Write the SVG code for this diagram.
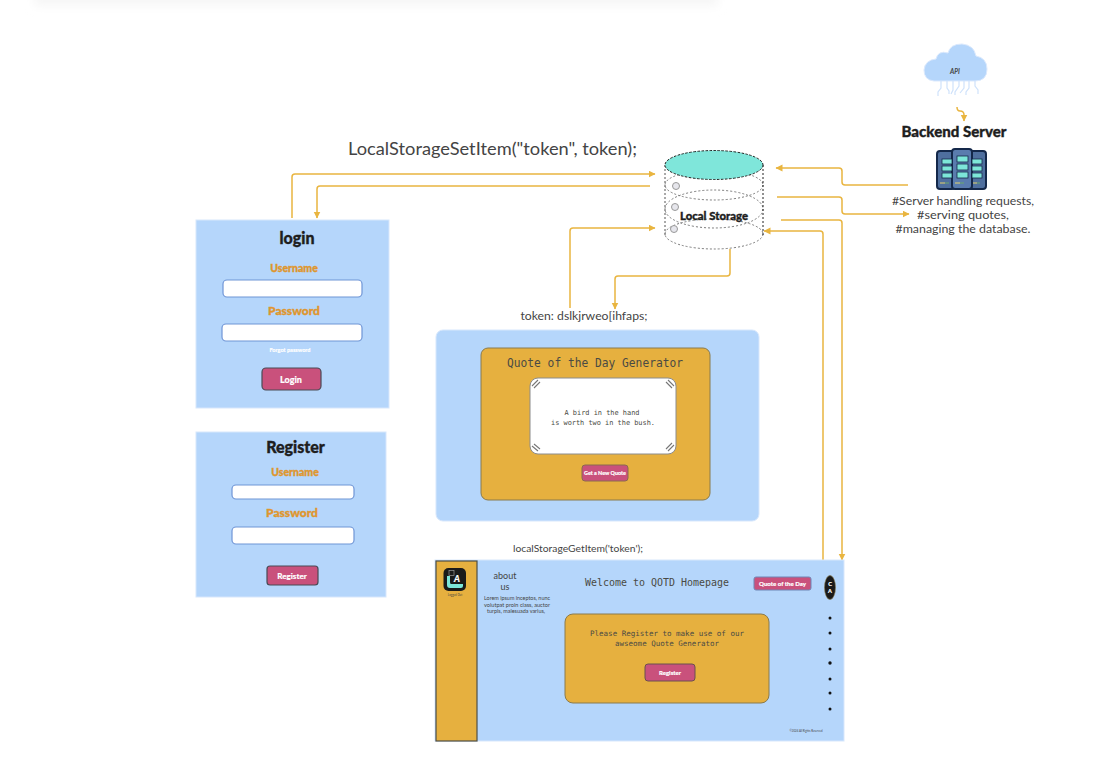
<svg xmlns="http://www.w3.org/2000/svg" width="1113" height="772" viewBox="0 0 1113 772">
<style>
.hand{font-family:"Lato","Open Sans","Liberation Sans",sans-serif;fill:#444;text-anchor:middle}
.mono{font-family:"DejaVu Sans Mono","Liberation Mono",monospace;fill:#4a4a44;text-anchor:middle}
.head{font-family:"Lato","Noto Sans","Liberation Sans",sans-serif;font-weight:900;fill:#1e1e1e;stroke:#1e1e1e;stroke-width:.35;text-anchor:middle}
.lab{font-family:"Lato","Noto Sans","Liberation Sans",sans-serif;font-weight:900;fill:#df962f;stroke:#df962f;stroke-width:.35;text-anchor:middle;font-size:10.5px}
.btnt{font-family:"Lato","Noto Sans","Liberation Sans",sans-serif;font-weight:900;fill:#fff;stroke:#fff;stroke-width:.15;text-anchor:middle}
.panel{fill:#b5d6fb;stroke:#d7e7fc;stroke-width:1}
.input{fill:#fff;stroke:#6f95d6;stroke-width:1.2}
.btn{fill:#c9517c;stroke:#4a4a55;stroke-width:1.2}
.gold{fill:#e6b03f;stroke:#8a7a4c;stroke-width:1}
.conn{fill:none;stroke:#e9b540;stroke-width:1.5}
.dash{fill:none;stroke:#7a7a7a;stroke-width:1;stroke-dasharray:2 2}
.tick{stroke:#777;stroke-width:1.1;fill:none}
.wire{stroke:#cfe2fb;stroke-width:1.2;fill:none}
</style>
<defs>
<filter id="soft" x="-5%" y="-200%" width="110%" height="500%"><feGaussianBlur stdDeviation="5"/></filter>
<marker id="arrow" markerUnits="userSpaceOnUse" markerWidth="8" markerHeight="8" refX="6.5" refY="3.5" orient="auto"><path d="M0 0L7 3.5L0 7Z" fill="#e9b540"/></marker>
</defs>
<rect x="34" y="-24" width="684" height="30" fill="#f6f6f6" filter="url(#soft)"/>

<g id="connectors">
<path class="conn" marker-end="url(#arrow)" d="M292 218V177Q292 174 295 174H655"/>
<path class="conn" marker-end="url(#arrow)" d="M650 186H320Q317 186 317 189V218"/>
<path class="conn" marker-end="url(#arrow)" d="M570 308V231Q570 228 573 228H655"/>
<path class="conn" marker-end="url(#arrow)" d="M730 249V273Q730 276 727 276H618Q615 276 615 279V309"/>
<path class="conn" marker-end="url(#arrow)" d="M908 185H845Q842 185 842 182V171Q842 168 839 168H776"/>
<path class="conn" marker-end="url(#arrow)" d="M777 197H839Q842 197 842 200V211Q842 214 845 214H909"/>
<path class="conn" marker-end="url(#arrow)" d="M781 220H839Q842 220 842 223V560"/>
<path class="conn" marker-end="url(#arrow)" d="M823 560V234Q823 231 820 231H764"/>
<path class="conn" marker-end="url(#arrow)" d="M957 107Q957 111 960 111Q964 111 964 115V121"/>
</g>

<g id="api-cloud">
<path d="M934 81Q924 80 924 70Q925 60 936 59Q938 50 948 53Q950 44 962 44Q974 45 976 56Q987 58 987 69Q987 81 975 81Z" fill="#b5d6fb" stroke="#dbe9fd"/>
<path class="wire" d="M941 81V88L938 92V96M947 81V88L949 91V94M953 81V90L951 94M959 81V86L955 92V95M964 81V88L960 93M969 81V88L966 92V95M975 81V86L978 90V94"/>
<text class="hand" x="955" y="74" font-size="6.500" font-style="italic" font-weight="700">API</text>
</g>

<g id="backend-server">
<text class="head" x="954" y="137" font-size="15" textLength="105" lengthAdjust="spacingAndGlyphs">Backend Server</text>
<rect x="937" y="151" width="18" height="38" rx="3" fill="#4f6f9e" stroke="#14284a" stroke-width="2"/>
<rect x="968" y="151" width="18" height="38" rx="3" fill="#4f6f9e" stroke="#14284a" stroke-width="2"/>
<rect x="952" y="149" width="20" height="40" rx="3" fill="#5a7cae" stroke="#14284a" stroke-width="2"/>
<g fill="#7de6d9" stroke="#14284a" stroke-width=".8">
<rect x="942" y="159" width="10" height="5"/><rect x="942" y="166" width="10" height="5"/><rect x="942" y="173" width="10" height="5"/>
<rect x="957" y="156" width="11" height="6"/><rect x="957" y="164" width="11" height="6"/><rect x="957" y="172" width="11" height="6"/>
<rect x="972" y="159" width="10" height="5"/><rect x="972" y="166" width="10" height="5"/><rect x="972" y="173" width="10" height="5"/>
</g>
<path d="M940 183h5M955 183h5M973 183h4" stroke="#e6d36a" stroke-width="1"/>
<path d="M945 183h4M960 183h4M977 183h3" stroke="#6aa86a" stroke-width="1"/>
<text class="hand" x="963" y="205" font-size="11.500" textLength="142" lengthAdjust="spacingAndGlyphs">#Server handling requests,</text>
<text class="hand" x="963" y="219" font-size="11.500" textLength="92" lengthAdjust="spacingAndGlyphs">#serving quotes,</text>
<text class="hand" x="963" y="233" font-size="11.500" textLength="135" lengthAdjust="spacingAndGlyphs">#managing the database.</text>
</g>

<g id="local-storage">
<ellipse class="dash" cx="714" cy="185" rx="49" ry="15"/>
<ellipse class="dash" cx="714" cy="209" rx="49" ry="19"/>
<ellipse class="dash" cx="714" cy="234" rx="49" ry="15"/>
<path d="M665 165V236" fill="none" stroke="#555" stroke-dasharray="2 2"/>
<path d="M763 165V236" fill="none" stroke="#222" stroke-dasharray="2 2"/>
<ellipse cx="714" cy="165" rx="49" ry="14.500" fill="#7fe6da" stroke="#222" stroke-width="1" stroke-dasharray="2.500 1.500"/>
<g fill="#e6e6ec" stroke="#999"><circle cx="676" cy="186" r="3.500"/><circle cx="675" cy="207" r="3.500"/><circle cx="674" cy="229" r="3.500"/></g>
<text class="head" x="714" y="220" font-size="11.500" textLength="68" lengthAdjust="spacingAndGlyphs">Local Storage</text>
</g>

<text class="hand" x="492.500" y="155" font-size="17" textLength="289" lengthAdjust="spacingAndGlyphs">LocalStorageSetItem("token", token);</text>
<text class="hand" x="584" y="320" font-size="11.500" textLength="127" lengthAdjust="spacingAndGlyphs">token: dslkjrweo[ihfaps;</text>
<text class="hand" x="578" y="552" font-size="10" textLength="130" lengthAdjust="spacingAndGlyphs">localStorageGetItem('token');</text>

<g id="login">
<rect class="panel" x="196" y="220" width="193" height="188"/>
<text class="head" x="297" y="244" font-size="16">login</text>
<text class="lab" x="294" y="272">Username</text>
<rect class="input" x="223" y="280" width="139" height="17" rx="4"/>
<text class="lab" x="294" y="315" style="font-size:12px">Password</text>
<rect class="input" x="222" y="324" width="140" height="17" rx="4"/>
<text class="btnt" x="290" y="352" font-size="5.500">Forgot password</text>
<rect class="btn" x="262" y="368" width="59" height="22" rx="4"/>
<text class="btnt" x="291" y="383" font-size="9">Login</text>
</g>

<g id="register">
<rect class="panel" x="196" y="432" width="190" height="165"/>
<text class="head" x="295.500" y="453" font-size="16">Register</text>
<text class="lab" x="295" y="476">Username</text>
<rect class="input" x="232" y="485" width="122" height="14" rx="4"/>
<text class="lab" x="292" y="517" style="font-size:12px">Password</text>
<rect class="input" x="232" y="527" width="122" height="17" rx="4"/>
<rect class="btn" x="267" y="566" width="51" height="19" rx="3"/>
<text class="btnt" x="292" y="579" font-size="8">Register</text>
</g>

<g id="quote-generator">
<rect class="panel" x="436" y="330" width="323" height="191" rx="7"/>
<rect class="gold" x="481" y="348" width="229" height="152" rx="7"/>
<text class="mono" x="595" y="366.500" font-size="11.500" textLength="176" lengthAdjust="spacingAndGlyphs">Quote of the Day Generator</text>
<rect x="530" y="378" width="146" height="76" rx="8" fill="#fff" stroke="#8c8c8c"/>
<path class="tick" d="M532 386L538 380M534 388L540 382M666 382L672 388M668 380L674 386M532 446L538 451M534 444L540 449M668 451L674 445M666 449L672 443"/>
<text class="mono" x="602" y="415" font-size="7" textLength="75" lengthAdjust="spacingAndGlyphs">A bird in the hand</text>
<text class="mono" x="603" y="424.500" font-size="7" textLength="104" lengthAdjust="spacingAndGlyphs">is worth two in the bush.</text>
<rect x="582" y="465" width="46" height="16" rx="3" fill="#c9517c" stroke="#8a6a50"/>
<text class="btnt" x="605" y="475" font-size="5.500" textLength="42" lengthAdjust="spacingAndGlyphs">Get a New Quote</text>
</g>

<g id="homepage">
<rect class="panel" x="435" y="560" width="409" height="181"/>
<rect x="436" y="561" width="41" height="180" fill="#e6b03f" stroke="#4f4f45" stroke-width="1.200"/>
<rect x="443.500" y="568" width="22.500" height="23" rx="5" fill="#1a1a1a"/>
<path d="M447 576V585Q447 588 450 588H461Q463 588 463 586V584H451Q450 584 450 582V576Z" fill="#7de6d9"/>
<rect x="449" y="570.500" width="5" height="5" fill="#1a1a1a" stroke="#999" stroke-width=".7"/>
<text class="btnt" x="457" y="582" font-size="9" font-style="italic">A</text>
<text class="hand" x="455" y="596" font-size="2.800">Logged Out</text>
<text class="hand" x="505" y="579" font-size="9">about</text>
<text class="hand" x="505" y="590" font-size="9">us</text>
<text class="hand" x="517" y="600" font-size="5.500" textLength="66" lengthAdjust="spacingAndGlyphs">Lorem ipsum inceptos, nunc</text>
<text class="hand" x="517" y="607" font-size="5.500" textLength="66" lengthAdjust="spacingAndGlyphs">volutpat proin class, auctor</text>
<text class="hand" x="516" y="613" font-size="5.500" textLength="58" lengthAdjust="spacingAndGlyphs">turpis, malesuada varius,</text>
<text class="mono" x="657" y="586" font-size="10" textLength="144" lengthAdjust="spacingAndGlyphs">Welcome to QOTD Homepage</text>
<rect x="754" y="577" width="57" height="13" rx="2" fill="#c9517c" stroke="#6f86b5"/>
<text class="btnt" x="782.500" y="586" font-size="6" textLength="47" lengthAdjust="spacingAndGlyphs">Quote of the Day</text>
<ellipse cx="830" cy="587.500" rx="5.500" ry="12" fill="#1a1a1a" stroke="#8a7a4c" stroke-width=".6"/>
<text class="btnt" x="830" y="586" font-size="5.500">C</text>
<text class="btnt" x="830" y="593" font-size="5.500">A</text>
<g fill="#111"><circle cx="830" cy="618" r="1.500"/><circle cx="830" cy="633" r="1.500"/><circle cx="830" cy="649" r="1.500"/><circle cx="830" cy="663" r="1.700"/><circle cx="830" cy="679" r="1.500"/><circle cx="830" cy="693" r="1.500"/><circle cx="830" cy="709" r="1.500"/></g>
<rect class="gold" x="565" y="614" width="204" height="89" rx="8"/>
<text class="mono" x="667" y="635.500" font-size="7.500" textLength="154" lengthAdjust="spacingAndGlyphs">Please Register to make use of our</text>
<text class="mono" x="667" y="646" font-size="7.500" textLength="104" lengthAdjust="spacingAndGlyphs">awseome Quote Generator</text>
<rect x="645" y="664" width="50" height="17" rx="3" fill="#c9517c" stroke="#6a5050"/>
<text class="btnt" x="670" y="675" font-size="6">Register</text>
<text class="hand" x="806" y="732" font-size="2.800">©2024 All Rights Reserved</text>
</g>
</svg>
